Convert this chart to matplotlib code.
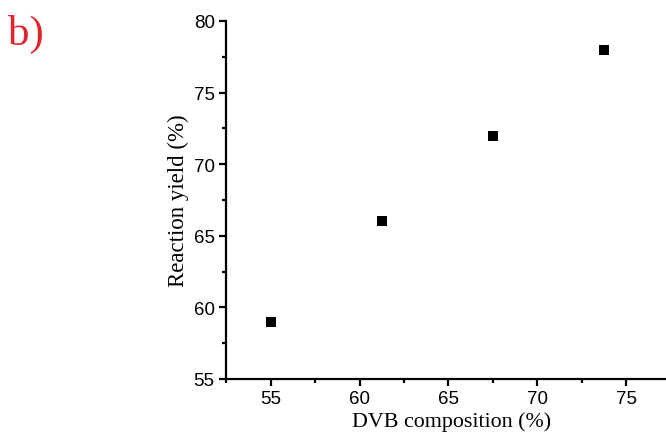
import numpy as np
import matplotlib.pyplot as plt
from matplotlib.ticker import MultipleLocator

# data
dvb = [55, 61.25, 67.5, 73.75]
yield_pct = [59, 66, 72, 78]
xticks = [55, 60, 65, 70, 75]
yticks = [55, 60, 65, 70, 75, 80]

fig = plt.figure(figsize=(6.66, 4.39), dpi=100)
ax = fig.add_axes([0.339, 0.1344, 0.661, 0.8155])

ax.plot(dvb, yield_pct, 's', color='black', markersize=6.5, markeredgewidth=0)

ax.set_xlim(52.46, 77.25)
ax.set_ylim(55, 80)
ax.set_xticks(xticks)
ax.set_yticks(yticks)
ax.xaxis.set_minor_locator(MultipleLocator(2.5))
ax.yaxis.set_minor_locator(MultipleLocator(2.5))

for s in ['top', 'right']:
    ax.spines[s].set_visible(False)
for s in ['left', 'bottom']:
    ax.spines[s].set_linewidth(1.6)

ax.tick_params(which='major', direction='out', length=5, width=1.6,
               labelsize=13.5, pad=3)
ax.tick_params(which='minor', direction='out', length=3, width=1.6)
for lab in ax.get_xticklabels() + ax.get_yticklabels():
    lab.set_fontfamily('Liberation Sans')

ax.set_xlabel('DVB composition (%)', fontfamily='Liberation Serif', fontsize=15.8)
ax.xaxis.set_label_coords(0.512, -0.09)
ax.set_ylabel('Reaction yield (%)', fontfamily='Liberation Serif', fontsize=16.5, labelpad=3)

fig.text(0.012, 0.965, 'b)', color='#e3232b', fontfamily='Liberation Serif',
         fontsize=31, va='top', ha='left')

fig.savefig('out.png', dpi=100)
